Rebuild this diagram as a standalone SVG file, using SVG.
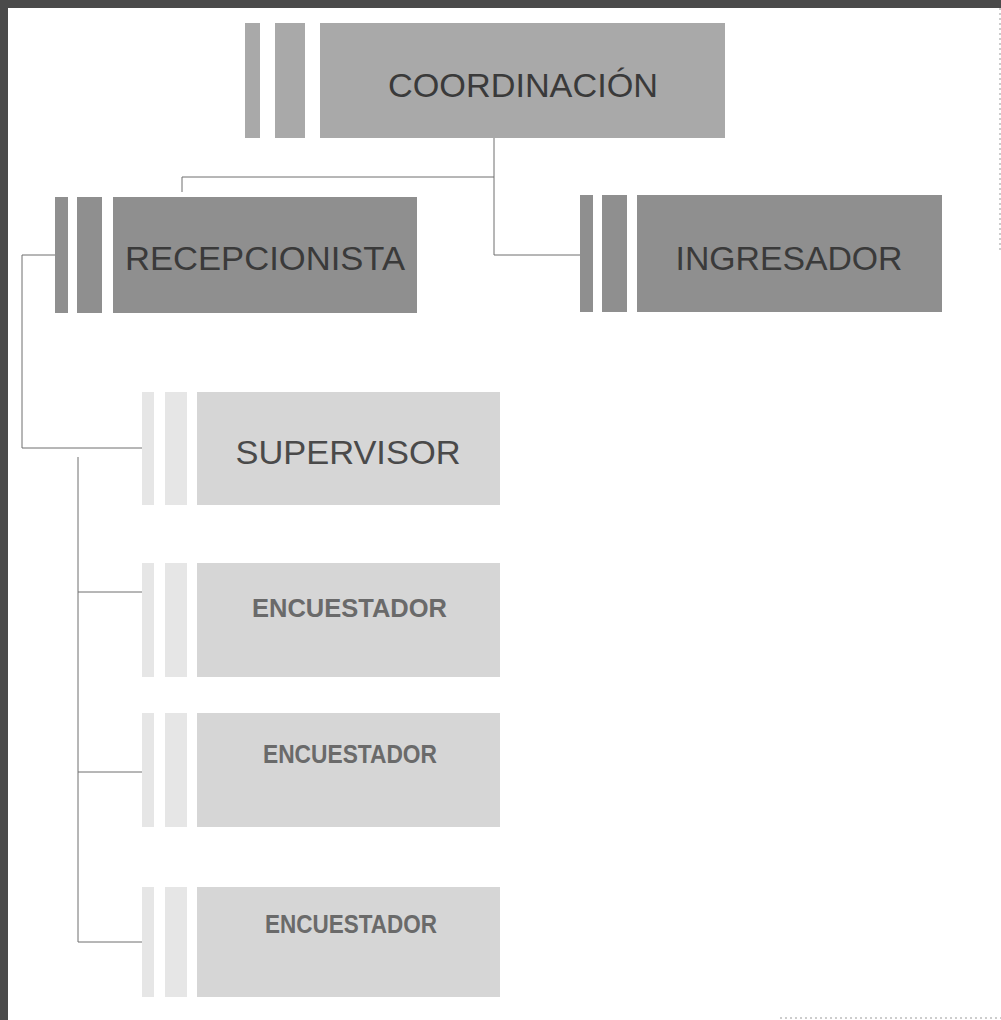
<svg xmlns="http://www.w3.org/2000/svg" width="1001" height="1020" viewBox="0 0 1001 1020">
<style>
.bg{fill:#ffffff}
.frame{fill:#4a4a4a}
.top .bar,.top .box{fill:#a9a9a9}
.mid .bar,.mid .box{fill:#8f8f8f}
.low .bar{fill:#e6e6e6}
.low .box{fill:#d6d6d6}
.t{font-family:"Liberation Sans",Arial,sans-serif;text-anchor:middle}
.big{font-size:34px;fill:#3a3a3a}
.sup{font-size:33px;fill:#4a4a4a}
.enc{font-size:25px;font-weight:bold;fill:#6a6a6a}
.conn{fill:none;stroke:#6e6e6e;stroke-width:1}
.faint{fill:none;stroke:#9a9a9a;stroke-width:1;stroke-dasharray:2 3}
</style>
<rect class="bg" x="0" y="0" width="1001" height="1020"/>
<g id="frame">
<rect class="frame" x="0" y="0" width="1001" height="8"/>
<rect class="frame" x="0" y="0" width="8" height="1020"/>
<line class="faint" x1="1000" y1="8" x2="1000" y2="250"/>
<line class="faint" x1="780" y1="1018" x2="1001" y2="1018"/>
</g>
<g id="connectors">
<path class="conn" d="M494,137 V255 H580"/>
<path class="conn" d="M494,177 H182 V192"/>
<path class="conn" d="M55,255 H22 V448 H142"/>
<path class="conn" d="M78,457 V942 H142"/>
<path class="conn" d="M78,592 H142"/>
<path class="conn" d="M78,772 H142"/>
</g>
<g id="coordinacion" class="top">
<rect class="bar" x="245" y="23" width="15" height="115"/>
<rect class="bar" x="275" y="23" width="30" height="115"/>
<rect class="box" x="320" y="23" width="405" height="115"/>
<text class="t big" x="523" y="97" textLength="270" lengthAdjust="spacingAndGlyphs">COORDINACIÓN</text>
</g>
<g id="recepcionista" class="mid">
<rect class="bar" x="55" y="197" width="13" height="116"/>
<rect class="bar" x="77" y="197" width="25" height="116"/>
<rect class="box" x="113" y="197" width="304" height="116"/>
<text class="t big" x="265" y="270" textLength="280" lengthAdjust="spacingAndGlyphs">RECEPCIONISTA</text>
</g>
<g id="ingresador" class="mid">
<rect class="bar" x="580" y="195" width="13" height="117"/>
<rect class="bar" x="602" y="195" width="25" height="117"/>
<rect class="box" x="637" y="195" width="305" height="117"/>
<text class="t big" x="789" y="270" textLength="227" lengthAdjust="spacingAndGlyphs">INGRESADOR</text>
</g>
<g id="supervisor" class="low">
<rect class="bar" x="142" y="392" width="12" height="113"/>
<rect class="bar" x="165" y="392" width="22" height="113"/>
<rect class="box" x="197" y="392" width="303" height="113"/>
<text class="t sup" x="348" y="464" textLength="225" lengthAdjust="spacingAndGlyphs">SUPERVISOR</text>
</g>
<g id="encuestador1" class="low">
<rect class="bar" x="142" y="563" width="12" height="114"/>
<rect class="bar" x="165" y="563" width="22" height="114"/>
<rect class="box" x="197" y="563" width="303" height="114"/>
<text class="t enc" x="349.5" y="617" textLength="195" lengthAdjust="spacingAndGlyphs">ENCUESTADOR</text>
</g>
<g id="encuestador2" class="low">
<rect class="bar" x="142" y="713" width="12" height="114"/>
<rect class="bar" x="165" y="713" width="22" height="114"/>
<rect class="box" x="197" y="713" width="303" height="114"/>
<text class="t enc" x="350" y="763" textLength="174" lengthAdjust="spacingAndGlyphs">ENCUESTADOR</text>
</g>
<g id="encuestador3" class="low">
<rect class="bar" x="142" y="887" width="12" height="110"/>
<rect class="bar" x="165" y="887" width="22" height="110"/>
<rect class="box" x="197" y="887" width="303" height="110"/>
<text class="t enc" x="351" y="933" textLength="172" lengthAdjust="spacingAndGlyphs">ENCUESTADOR</text>
</g>
</svg>
